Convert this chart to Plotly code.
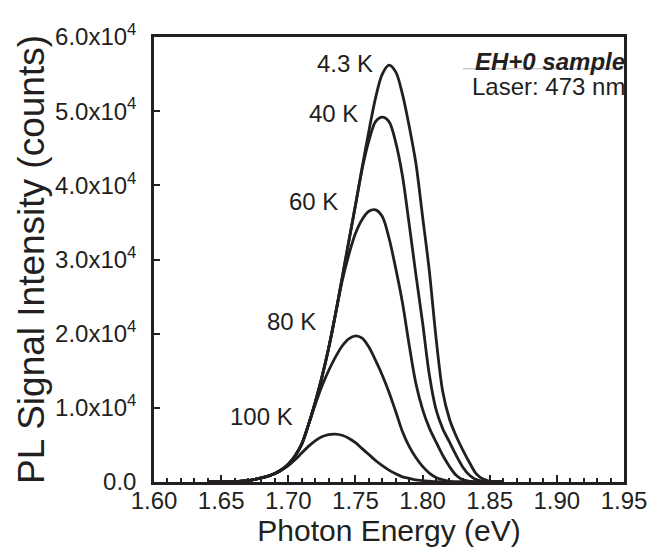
import plotly.graph_objects as go

# Photon energy grid (eV)
energy = [1.640, 1.645, 1.650, 1.655, 1.660, 1.665, 1.670, 1.675, 1.680, 1.685,
          1.690, 1.695, 1.700, 1.705, 1.710, 1.715, 1.720, 1.725, 1.730, 1.735,
          1.740, 1.745, 1.750, 1.755, 1.760, 1.765, 1.770, 1.775, 1.780, 1.785,
          1.790, 1.795, 1.800, 1.805, 1.810, 1.815, 1.820, 1.825, 1.830, 1.835,
          1.840, 1.845, 1.850, 1.855, 1.860]

# PL intensity (counts) per temperature
pl_4K = [0, 0, 10, 30, 60, 110, 200, 350, 550, 800,
         1150, 1650, 2400, 3500, 5100, 7700, 10700, 14100, 18000, 22500,
         27400, 32400, 37300, 42400, 47300, 51800, 55000, 56200, 55300, 52300,
         48000, 43000, 35800, 28500, 19500, 12200, 8500, 6200, 4300, 2600,
         1100, 400, 100, 0, 0]
pl_40K = [0, 0, 10, 30, 60, 110, 200, 350, 550, 800,
          1150, 1650, 2400, 3500, 5100, 7700, 10700, 14100, 18000, 22500,
          27400, 32400, 37300, 42200, 46000, 48600, 49200, 48600, 45800, 41300,
          34800, 28000, 21500, 14500, 9800, 7200, 5400, 3600, 2000, 900,
          300, 100, 0, 0, 0]
pl_60K = [0, 0, 10, 30, 60, 110, 200, 350, 550, 800,
          1150, 1650, 2400, 3500, 5100, 7700, 10700, 14100, 18000, 22500,
          27000, 30600, 33500, 35400, 36500, 36700, 35800, 32900, 28800, 24200,
          18500, 13300, 9800, 7300, 5400, 3600, 2100, 900, 300, 100,
          0, 0, 0, 0, 0]
pl_80K = [0, 0, 10, 30, 60, 110, 200, 350, 550, 800,
          1150, 1650, 2400, 3500, 5100, 7700, 10400, 12900, 15000, 16800,
          18300, 19300, 19700, 19400, 18200, 16400, 14400, 12100, 9500, 6800,
          4800, 3300, 2100, 1200, 600, 300, 100, 0, 0, 0,
          0, 0, 0, 0, 0]
pl_100K = [0, 0, 10, 30, 60, 110, 200, 350, 550, 800,
           1150, 1600, 2200, 3000, 3900, 4800, 5550, 6100, 6400, 6450,
           6300, 5900, 5300, 4500, 3700, 2900, 2200, 1600, 1100, 700,
           500, 300, 200, 100, 50, 0, 0, 0, 0, 0,
           0, 0, 0, 0, 0]

series = [("100 K", pl_100K), ("80 K", pl_80K), ("60 K", pl_60K),
          ("40 K", pl_40K), ("4.3 K", pl_4K)]

# Curve labels: (text, energy at right edge of label, intensity at label centre)
labels = [("4.3 K", 1.7646, 56400), ("40 K", 1.7535, 49700),
          ("60 K", 1.7386, 37800), ("80 K", 1.7222, 21600),
          ("100 K", 1.7050, 8800)]

y_tickvals = [0, 10000, 20000, 30000, 40000, 50000, 60000]
y_ticktext = ["0.0", "1.0x10<sup>4</sup>", "2.0x10<sup>4</sup>", "3.0x10<sup>4</sup>",
              "4.0x10<sup>4</sup>", "5.0x10<sup>4</sup>", "6.0x10<sup>4</sup>"]
x_tickvals = [1.60, 1.65, 1.70, 1.75, 1.80, 1.85, 1.90, 1.95]
x_ticktext = ["1.60", "1.65", "1.70", "1.75", "1.80", "1.85", "1.90", "1.95"]

INK = "#231f20"
FONT = "Liberation Sans, Arial, sans-serif"

fig = go.Figure()
for name, vals in series:
    assert len(vals) == len(energy)
    fig.add_trace(go.Scatter(x=energy, y=vals, mode="lines", name=name,
                             line=dict(color=INK, width=2.8, shape="spline", smoothing=0.9),
                             showlegend=False, hoverinfo="skip"))

for text, ex, iy in labels:
    fig.add_annotation(x=ex, y=iy, text=text, showarrow=False, xanchor="right",
                       yanchor="middle", font=dict(family=FONT, size=24, color=INK))

fig.add_annotation(xref="paper", yref="paper", x=1.0, y=0.946, xshift=3,
                   text="<b><i>EH+0 sample</i></b>", showarrow=False,
                   xanchor="right", yanchor="middle",
                   font=dict(family=FONT, size=24, color=INK))
fig.add_annotation(xref="paper", yref="paper", x=1.0, y=0.888, xshift=3,
                   text="Laser: 473 nm", showarrow=False,
                   xanchor="right", yanchor="middle",
                   font=dict(family=FONT, size=24, color=INK))
fig.add_shape(type="line", xref="paper", yref="paper", x0=0.657, x1=0.997,
              y0=0.9286, y1=0.9286, line=dict(color="#b0b0b0", width=1))

fig.update_xaxes(range=[1.60, 1.95], tickvals=x_tickvals, ticktext=x_ticktext,
                 ticks="inside", ticklen=7, tickwidth=2, tickcolor=INK,
                 minor=dict(dtick=0.01, tick0=1.60, ticks="inside", ticklen=4,
                            tickwidth=2, tickcolor=INK),
                 showline=True, linewidth=2.5, linecolor=INK, mirror=True,
                 showgrid=False, zeroline=False, ticklabelstandoff=-5,
                 tickfont=dict(family=FONT, size=24, color=INK),
                 title=dict(text="Photon Energy (eV)", standoff=3,
                            font=dict(family=FONT, size=30, color=INK)))
fig.update_yaxes(range=[0, 60000], tickvals=y_tickvals, ticktext=y_ticktext,
                 ticks="inside", ticklen=6, tickwidth=2, tickcolor=INK,
                 showline=True, linewidth=2.5, linecolor=INK, mirror=True,
                 showgrid=False, zeroline=False, ticklabelstandoff=10,
                 tickfont=dict(family=FONT, size=24, color=INK),
                 title=dict(text="PL Signal Intensity (counts)", standoff=0,
                            font=dict(family=FONT, size=37, color=INK)))

fig.update_layout(width=658, height=549, autosize=False,
                  margin=dict(l=146, r=42, t=26, b=75),
                  paper_bgcolor="white", plot_bgcolor="white")

fig.write_html("out.html")
